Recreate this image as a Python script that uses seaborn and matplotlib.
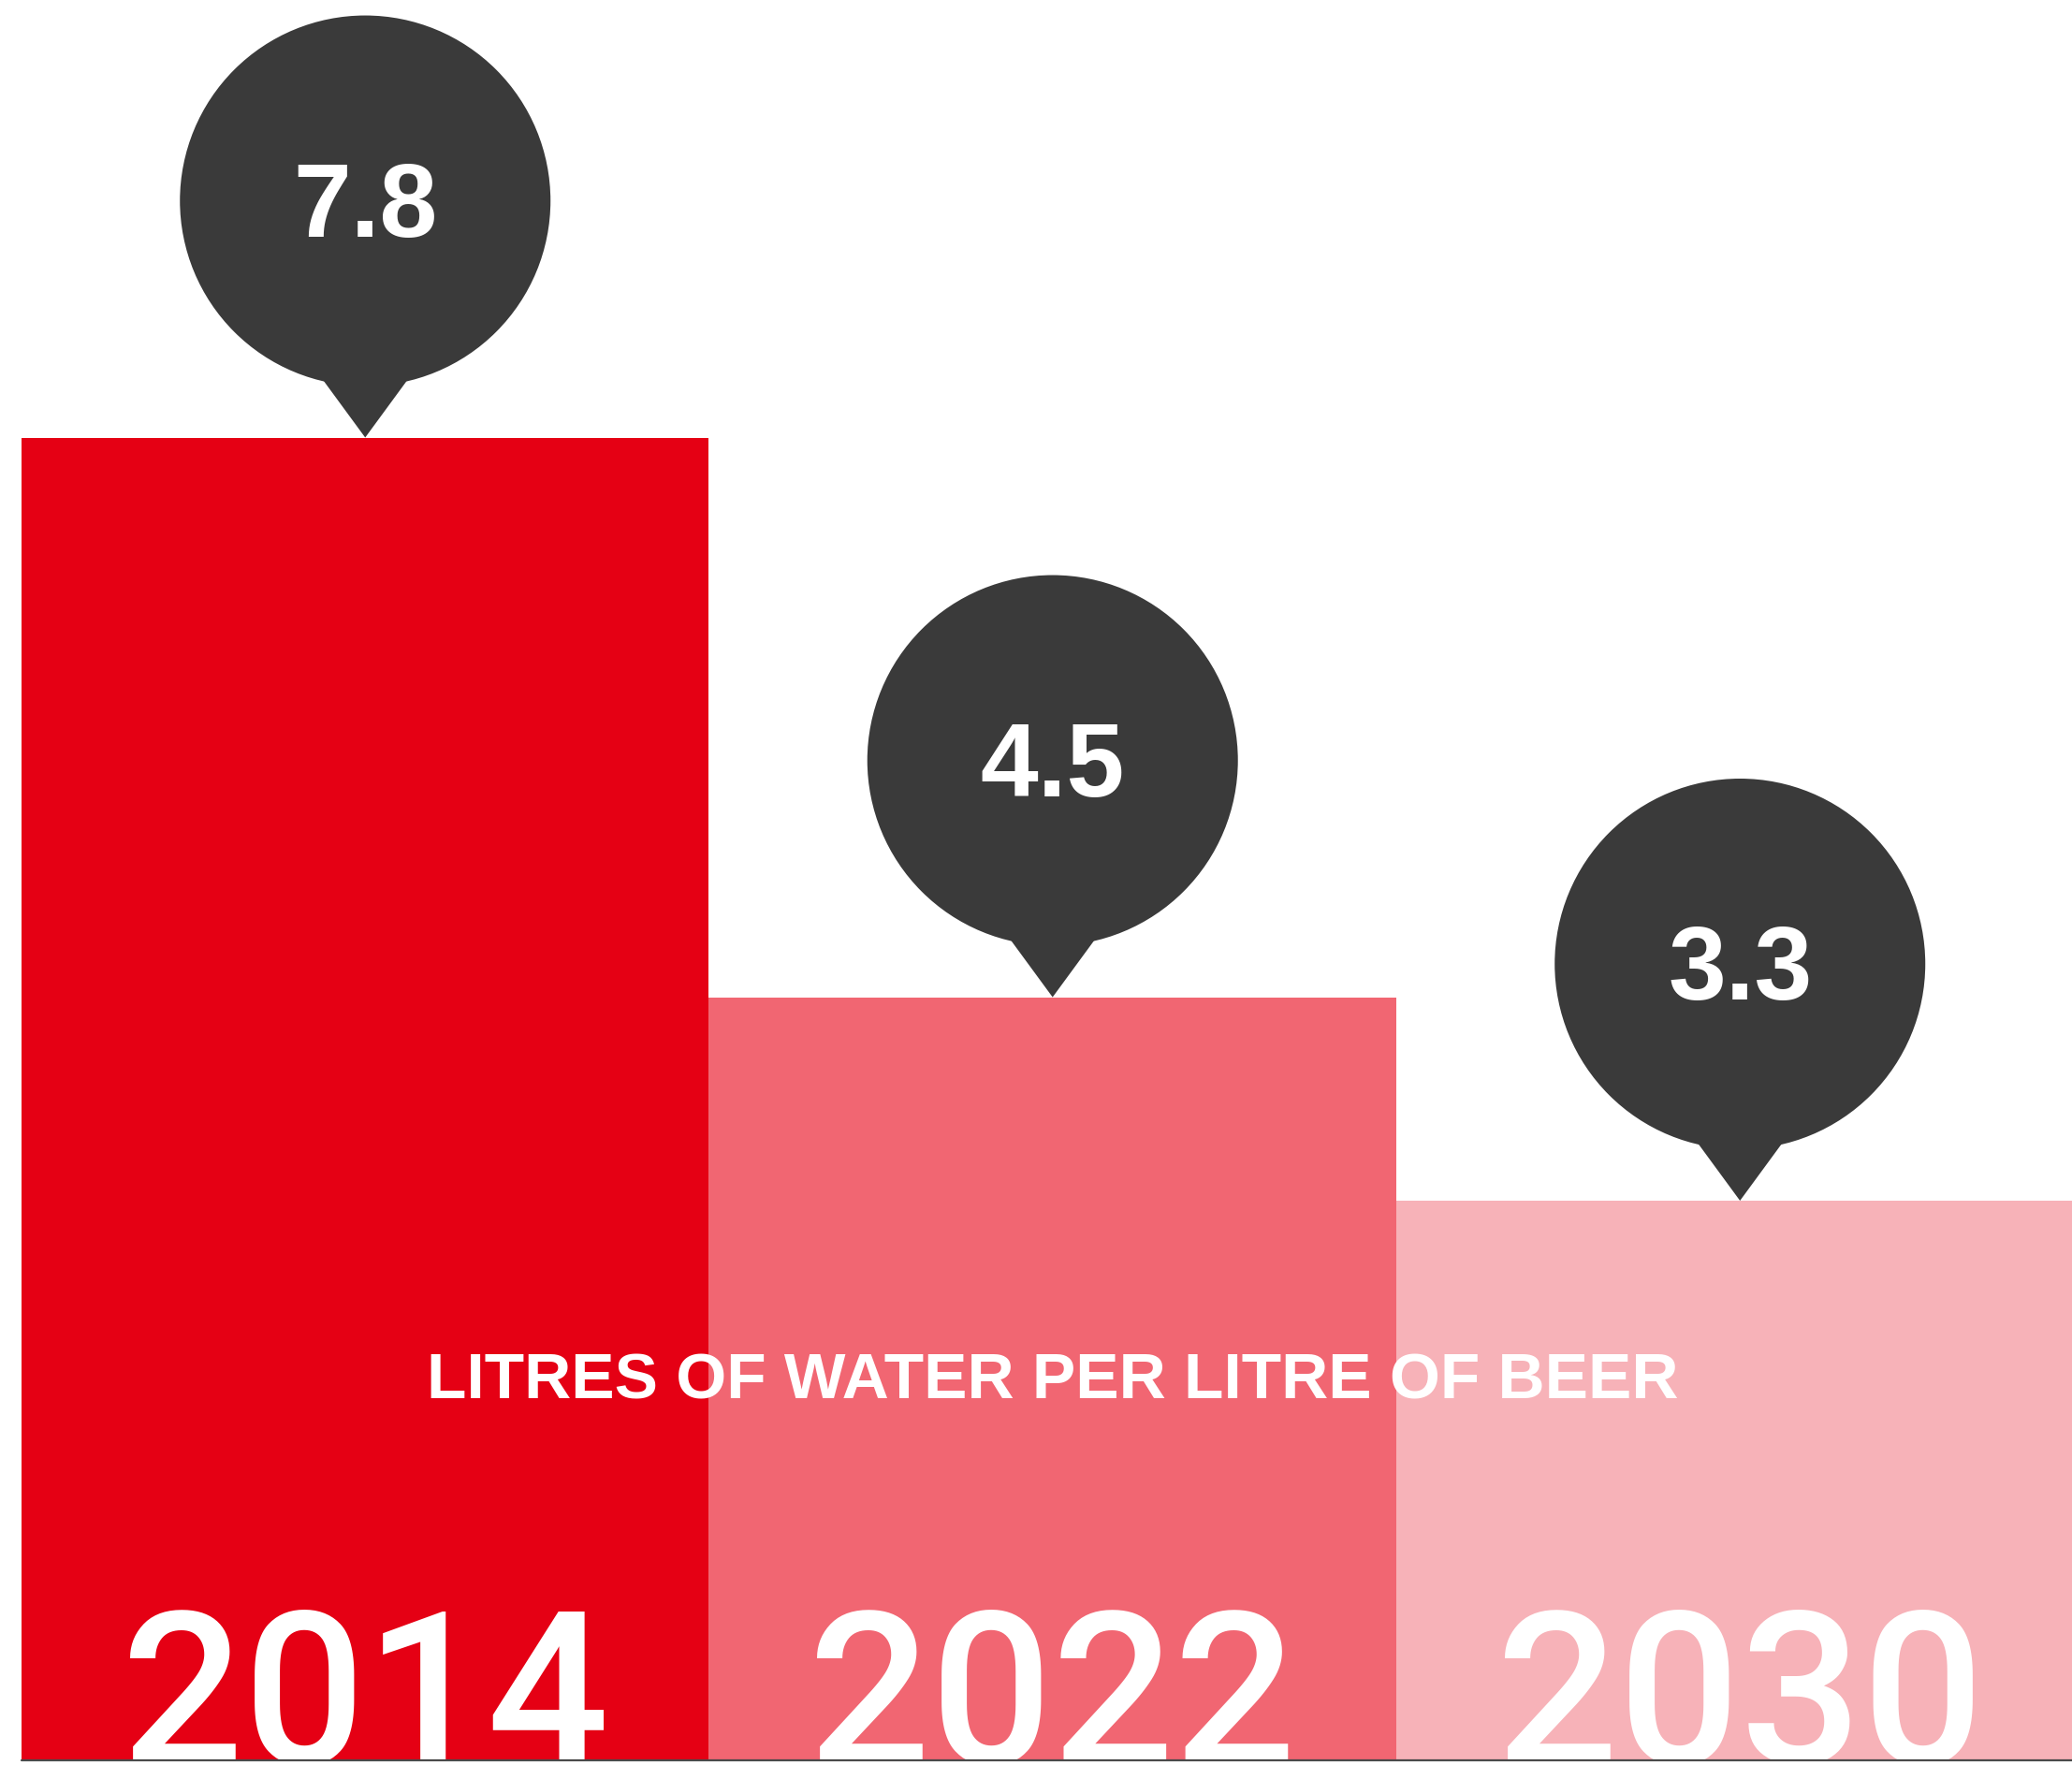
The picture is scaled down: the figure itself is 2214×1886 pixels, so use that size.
import matplotlib
matplotlib.use("Agg")
import matplotlib.pyplot as plt
import matplotlib.transforms as mtransforms
from matplotlib.patches import Circle, Polygon
import pandas as pd
import seaborn as sns

# Water use per litre of beer produced
years = ["2014", "2022", "2030"]
litres = [7.8, 4.5, 3.3]
bar_colors = ["#E50014", "#F16672", "#F7B2B8"]
subtitle = "LITRES OF WATER PER LITRE OF BEER"

bubble_color = "#3A3A3A"
rule_color = "#4A4A4A"

sns.set_theme(style="white")
plt.rcParams["font.family"] = ["Liberation Sans", "DejaVu Sans"]

W, H, DPI = 2214, 1886, 100
fig = plt.figure(figsize=(W / DPI, H / DPI), dpi=DPI)
fig.patch.set_facecolor("white")

# axes fill the figure; a few pixels are kept below the baseline rule
base_px = 5
ax = fig.add_axes([0, base_px / H, 1, 1 - base_px / H])

df = pd.DataFrame({"year": years, "litres": litres})
sns.barplot(
    data=df, x="year", y="litres", hue="year", palette=bar_colors,
    saturation=1, width=1.0, linewidth=0, legend=False, ax=ax,
)

ax.set_xlim(-0.5313, 2.483)
ax.set_ylim(0, 10.38)
ax.set_axis_off()

# baseline rule
ax.axhline(0, xmin=23 / W, xmax=1, color=rule_color, lw=1.6, clip_on=False, zorder=5)

# speech-bubble markers sitting on each bar top (geometry in pixels)
R, lift, half, neck = 198, 253, 44, 60
for i, v in enumerate(litres):
    tr = mtransforms.Affine2D() + mtransforms.ScaledTranslation(i, v, ax.transData)
    ax.add_patch(Circle((0, lift), R, transform=tr, facecolor=bubble_color,
                        edgecolor="none", clip_on=False, zorder=3))
    ax.add_patch(Polygon([(0, 0), (-half, neck), (-half, neck + 40),
                          (half, neck + 40), (half, neck)], closed=True,
                         transform=tr, facecolor=bubble_color, edgecolor="none",
                         clip_on=False, zorder=3))
    ax.annotate(f"{v:.1f}", xy=(i, v), xytext=(0, lift - 38),
                textcoords="offset pixels", ha="center", va="baseline",
                fontsize=80, fontweight="bold", color="white",
                family=["Liberation Sans", "DejaVu Sans"], zorder=4)

# axis caption across the bars
ax.text(1, 2.131, subtitle, ha="center", va="baseline", fontsize=50,
        fontweight="bold", color="white", family=["Liberation Sans", "DejaVu Sans"],
        zorder=4)

# year labels, cut off by the baseline
for i, y in enumerate(years):
    ax.text(i, -0.022, y, ha="center", va="baseline", fontsize=165,
            fontweight="medium", color="white", family=["Roboto", "Liberation Sans"],
            clip_on=True, zorder=4)

fig.savefig("out.png", dpi=DPI, facecolor="white")
